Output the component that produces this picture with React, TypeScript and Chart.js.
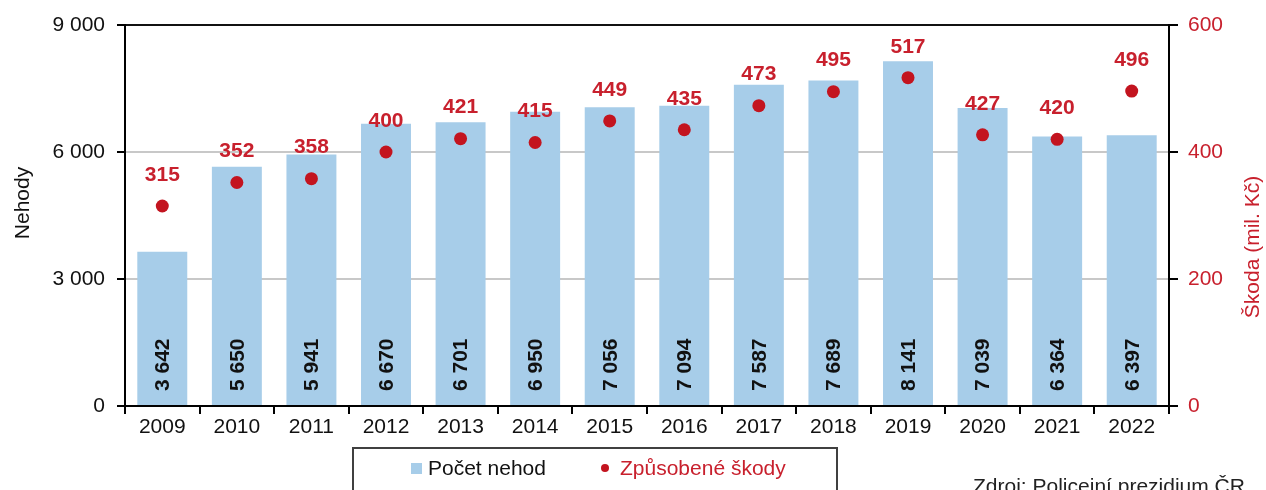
import React, { useEffect, useRef } from "react";
import { Chart, registerables } from "chart.js";

Chart.register(...registerables);

const categories = ["2009", "2010", "2011", "2012", "2013", "2014", "2015", "2016", "2017", "2018", "2019", "2020", "2021", "2022"];
const accidents = [3642, 5650, 5941, 6670, 6701, 6950, 7056, 7094, 7587, 7689, 8141, 7039, 6364, 6397];
const damages = [315, 352, 358, 400, 421, 415, 449, 435, 473, 495, 517, 427, 420, 496];
const leftTicks = [0, 3000, 6000, 9000];
const rightTicks = [0, 200, 400, 600];

const BAR_COLOR = "#A7CDE9";
const RED = "#C3141F";
const LABEL_RED = "#C8202D";
const FONT = '"Liberation Sans", Arial, sans-serif';

const fmt = (v: number) => String(v).replace(/\B(?=(\d{3})+(?!\d))/g, " ");

const labelsPlugin = {
  id: "customLabels",
  afterDatasetsDraw(chart: any) {
    const ctx = chart.ctx;
    const area = chart.chartArea;
    const barMeta = chart.getDatasetMeta(1);
    const ptMeta = chart.getDatasetMeta(0);
    ctx.save();
    // bar labels rotated
    ctx.fillStyle = "#111";
    ctx.font = `bold 21px ${FONT}`;
    barMeta.data.forEach((bar: any, i: number) => {
      ctx.save();
      ctx.translate(bar.x, area.bottom - 15);
      ctx.rotate(-Math.PI / 2);
      ctx.textAlign = "left";
      ctx.textBaseline = "middle";
      ctx.fillText(fmt(accidents[i]), 0, 1);
      ctx.restore();
    });
    // point labels
    ctx.fillStyle = LABEL_RED;
    ctx.textAlign = "center";
    ctx.textBaseline = "middle";
    ptMeta.data.forEach((pt: any, i: number) => {
      ctx.fillText(String(damages[i]), pt.x, pt.y - 31);
    });
    ctx.restore();
  },
  afterDraw(chart: any) {
    const ctx = chart.ctx;
    ctx.save();
    ctx.font = `21px ${FONT}`;
    // axis titles
    ctx.fillStyle = "#111";
    ctx.save();
    ctx.translate(23, 203);
    ctx.rotate(-Math.PI / 2);
    ctx.textAlign = "center";
    ctx.textBaseline = "middle";
    ctx.fillText("Nehody", 0, 0);
    ctx.restore();
    ctx.fillStyle = LABEL_RED;
    ctx.save();
    ctx.translate(1253, 247);
    ctx.rotate(-Math.PI / 2);
    ctx.textAlign = "center";
    ctx.textBaseline = "middle";
    ctx.fillText("Škoda (mil. Kč)", 0, 0);
    ctx.restore();
    // legend box
    ctx.strokeStyle = "#404040";
    ctx.lineWidth = 2;
    ctx.strokeRect(353, 448, 484, 100);
    ctx.fillStyle = BAR_COLOR;
    ctx.fillRect(411, 463, 11, 11);
    ctx.fillStyle = "#111";
    ctx.textAlign = "left";
    ctx.textBaseline = "middle";
    ctx.fillText("Počet nehod", 428, 469);
    ctx.fillStyle = RED;
    ctx.beginPath();
    ctx.arc(605, 468, 4, 0, Math.PI * 2);
    ctx.fill();
    ctx.fillStyle = LABEL_RED;
    ctx.fillText("Způsobené škody", 620, 469);
    // source
    ctx.fillStyle = "#222";
    ctx.textBaseline = "alphabetic";
    ctx.fillText("Zdroj: Policejní prezidium ČR", 973, 493);
    ctx.restore();
  },
};

export default function App() {
  const ref = useRef<HTMLCanvasElement | null>(null);
  useEffect(() => {
    document.body.style.margin = "0";
    const canvas = ref.current;
    if (!canvas) return;
    const chart = new Chart(canvas, {
      type: "bar",
      data: {
        labels: categories,
        datasets: [
          {
            type: "line",
            label: "Způsobené škody",
            data: damages,
            yAxisID: "y1",
            showLine: false,
            pointRadius: 6.5,
            pointHoverRadius: 6.5,
            pointBackgroundColor: RED,
            pointBorderColor: RED,
            pointBorderWidth: 0,
            order: 1,
          } as any,
          {
            type: "bar",
            label: "Počet nehod",
            data: accidents,
            yAxisID: "y",
            backgroundColor: BAR_COLOR,
            barPercentage: 0.67,
            categoryPercentage: 1,
            order: 2,
          },
        ],
      },
      options: {
        responsive: false,
        animation: false,
        layout: { padding: { top: 25, left: 0, right: 0, bottom: 0 } },
        plugins: {
          legend: { display: false },
          tooltip: { enabled: false },
        },
        font: { family: FONT },
        scales: {
          x: {
            afterFit: (s: any) => {
              s.height = 84;
            },
            grid: {
              offset: true,
              drawOnChartArea: false,
              drawTicks: true,
              tickLength: 8,
              color: "#000",
              lineWidth: 2,
            },
            border: { color: "#000", width: 2 },
            ticks: {
              color: "#111",
              font: { size: 21, family: FONT },
              padding: 1,
              maxRotation: 0,
              autoSkip: false,
            },
          },
          y: {
            position: "left",
            min: 0,
            max: 9000,
            afterFit: (s: any) => {
              s.width = 125;
            },
            afterBuildTicks: (s: any) => {
              s.ticks = leftTicks.map((v) => ({ value: v }));
            },
            grid: {
              drawTicks: true,
              tickLength: 8,
              tickColor: "#000",
              tickWidth: 2,
              color: (c: any) => (c.tick && c.tick.value === 9000 ? "#111" : "#C8C8C8"),
              lineWidth: (c: any) => (c.tick && c.tick.value === 9000 ? 2 : 2),
            },
            border: { color: "#000", width: 2 },
            ticks: {
              color: "#111",
              font: { size: 21, family: FONT },
              padding: 12,
              callback: (v: any) => fmt(Number(v)),
            },
          },
          y1: {
            position: "right",
            min: 0,
            max: 600,
            afterFit: (s: any) => {
              s.width = 97;
            },
            afterBuildTicks: (s: any) => {
              s.ticks = rightTicks.map((v) => ({ value: v }));
            },
            grid: {
              drawOnChartArea: false,
              drawTicks: true,
              tickLength: 9,
              color: "#000",
              lineWidth: 2,
            },
            border: { color: "#000", width: 2 },
            ticks: {
              color: LABEL_RED,
              font: { size: 21, family: FONT },
              padding: 10,
              callback: (v: any) => String(v),
            },
          },
        },
      } as any,
      plugins: [labelsPlugin],
    });
    return () => chart.destroy();
  }, []);
  return (
    <div style={{ width: 1266, height: 490, background: "#fff" }}>
      <canvas ref={ref} width={1266} height={490} style={{ display: "block" }} />
    </div>
  );
}
